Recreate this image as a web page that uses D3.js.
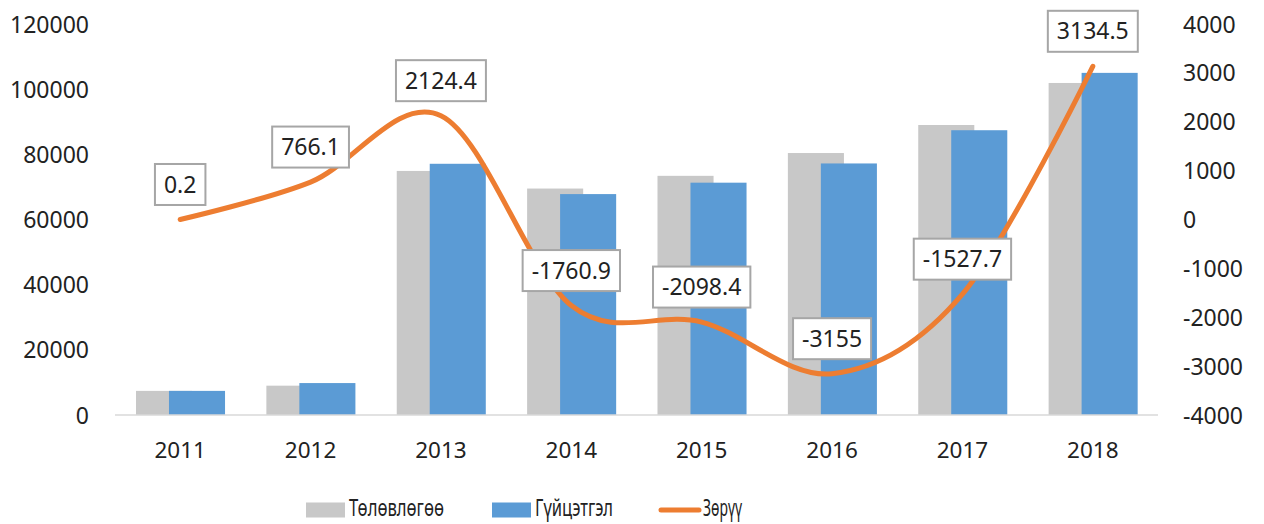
<!DOCTYPE html>
<html>
<head>
<meta charset="utf-8">
<script src="https://cdn.jsdelivr.net/npm/d3@7"></script>
<style>
  html, body { margin: 0; padding: 0; background: #fff; }
  svg { display: block; }
  text { font-family: "Noto Sans", "Open Sans", sans-serif; fill: #222; }
</style>
</head>
<body>
<svg id="chart" width="1264" height="524"></svg>
<script>
const years = ["2011", "2012", "2013", "2014", "2015", "2016", "2017", "2018"];
const planned = [7400, 9000, 74900, 69500, 73400, 80400, 89000, 101900];   // Төлөвлөгөө
const actual  = [7400, 9800, 77100, 67800, 71300, 77200, 87400, 105000];   // Гүйцэтгэл
const diff    = [0.2, 766.1, 2124.4, -1760.9, -2098.4, -3155, -1527.7, 3134.5]; // Зөрүү
const diffLabels = ["0.2", "766.1", "2124.4", "-1760.9", "-2098.4", "-3155", "-1527.7", "3134.5"];
const leftTicks = [0, 20000, 40000, 60000, 80000, 100000, 120000];
const rightTicks = [-4000, -3000, -2000, -1000, 0, 1000, 2000, 3000, 4000];
const legendNames = ["Төлөвлөгөө", "Гүйцэтгэл", "Зөрүү"];

const colors = { planned: "#c8c8c8", actual: "#5b9bd5", diff: "#ed7d31" };

const svg = d3.select("#chart");
const plotTop = 24, plotBottom = 415, plotLeft = 115, plotRight = 1158;

const x = d3.scaleBand().domain(years).range([plotLeft, plotRight]);
const yL = d3.scaleLinear().domain([0, 120000]).range([plotBottom, plotTop]);
const yR = d3.scaleLinear().domain([-4000, 4000]).range([plotBottom, plotTop]);
const bw = x.bandwidth();
const barW = bw * 0.43;

// bars: planned (behind)
svg.append("g").selectAll("rect").data(years).join("rect")
  .attr("x", (d) => x(d) + bw * 0.161)
  .attr("y", (d, i) => yL(planned[i]))
  .attr("width", barW)
  .attr("height", (d, i) => yL(0) - yL(planned[i]))
  .attr("fill", colors.planned);

// bars: actual (front)
svg.append("g").selectAll("rect").data(years).join("rect")
  .attr("x", (d) => x(d) + bw * 0.414)
  .attr("y", (d, i) => yL(actual[i]))
  .attr("width", barW)
  .attr("height", (d, i) => yL(0) - yL(actual[i]))
  .attr("fill", colors.actual);

// x axis line
svg.append("line")
  .attr("x1", plotLeft).attr("x2", plotRight)
  .attr("y1", yL(0)).attr("y2", yL(0))
  .attr("stroke", "#d9d9d9").attr("stroke-width", 1.5);

const fmt = (d) => String(d);

// left axis
const leftAxis = d3.axisLeft(yL).tickValues(leftTicks).tickSize(0).tickPadding(0).tickFormat(fmt);
const gL = svg.append("g").attr("transform", "translate(89,0)").call(leftAxis);
gL.select(".domain").remove();
gL.selectAll("text").attr("font-size", 23).attr("font-family", "Noto Sans").attr("fill", "#222").attr("dy", "0.35em");

// right axis
const rightAxis = d3.axisRight(yR).tickValues(rightTicks).tickSize(0).tickPadding(0).tickFormat(fmt);
const gR = svg.append("g").attr("transform", "translate(1183,0)").call(rightAxis);
gR.select(".domain").remove();
gR.selectAll("text").attr("font-size", 23).attr("font-family", "Noto Sans").attr("fill", "#222").attr("dy", "0.35em");

// x axis labels
const xAxis = d3.axisBottom(x).tickSize(0).tickPadding(0);
const gX = svg.append("g").attr("transform", "translate(0,450)").call(xAxis);
gX.select(".domain").remove();
gX.selectAll("text").attr("font-size", 22.5).attr("font-family", "Noto Sans").attr("fill", "#222").attr("dy", "0.35em");

// difference line
const line = d3.line()
  .x((d, i) => x(years[i]) + bw / 2)
  .y((d) => yR(d))
  .curve(d3.curveCardinal.tension(0));
svg.append("path")
  .datum(diff)
  .attr("d", line)
  .attr("fill", "none")
  .attr("stroke", colors.diff)
  .attr("stroke-width", 5)
  .attr("stroke-linecap", "round")
  .attr("stroke-linejoin", "round");

// data labels
const lab = svg.append("g");
diff.forEach((v, i) => {
  const cx = x(years[i]) + bw / 2;
  const cy = yR(v) - 35;
  const g = lab.append("g");
  const t = g.append("text")
    .attr("x", cx).attr("y", cy)
    .attr("text-anchor", "middle")
    .attr("dy", "0.35em")
    .attr("font-size", 23)
    .attr("fill", "#1a1a1a")
    .text(diffLabels[i]);
  const w = t.node().getComputedTextLength() + 18;
  g.insert("rect", "text")
    .attr("x", cx - w / 2).attr("y", cy - 20.5)
    .attr("width", w).attr("height", 41)
    .attr("fill", "#fff")
    .attr("stroke", "#a6a6a6")
    .attr("stroke-width", 2);
});

// legend
const leg = svg.append("g");
const legY = 508;
const legFont = 23;
leg.append("rect").attr("x", 306).attr("y", 502.5).attr("width", 39).attr("height", 15).attr("fill", colors.planned);
leg.append("text").attr("x", 349).attr("y", legY).attr("dy", "0.35em").attr("font-size", legFont)
  .attr("textLength", 95).attr("lengthAdjust", "spacingAndGlyphs").text(legendNames[0]);
leg.append("rect").attr("x", 492).attr("y", 502.5).attr("width", 39).attr("height", 15).attr("fill", colors.actual);
leg.append("text").attr("x", 535).attr("y", legY).attr("dy", "0.35em").attr("font-size", legFont)
  .attr("textLength", 78).attr("lengthAdjust", "spacingAndGlyphs").text(legendNames[1]);
leg.append("line").attr("x1", 661).attr("x2", 699).attr("y1", 510).attr("y2", 510)
  .attr("stroke", colors.diff).attr("stroke-width", 5).attr("stroke-linecap", "round");
leg.append("text").attr("x", 703).attr("y", legY).attr("dy", "0.35em").attr("font-size", legFont)
  .attr("textLength", 39).attr("lengthAdjust", "spacingAndGlyphs").text(legendNames[2]);
</script>
</body>
</html>
